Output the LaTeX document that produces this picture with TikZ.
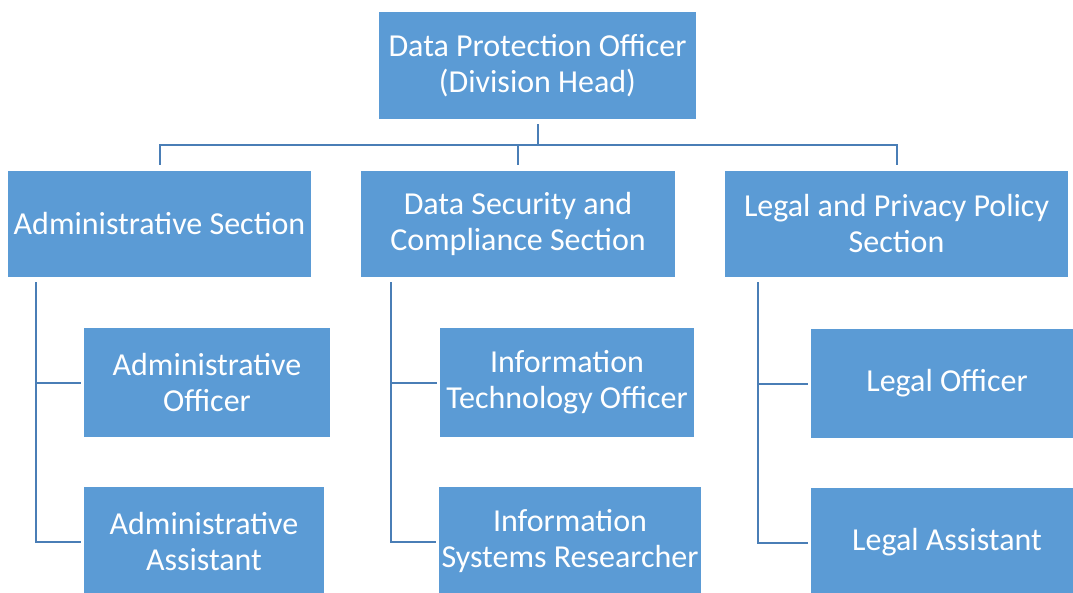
\documentclass[tikz,border=0pt]{standalone}
\usepackage{fontspec}
\setmainfont{Carlito}
\definecolor{boxblue}{RGB}{91,155,213}
\definecolor{lineblue}{RGB}{74,126,182}
\begin{document}
\begin{tikzpicture}[x=1pt,y=-1pt,
  orgbox/.style={rectangle, fill=boxblue, text=white, inner sep=0pt,
    align=center, font=\fontsize{32}{36}\selectfont},
  conn/.style={draw=lineblue, line width=2pt}]
\useasboundingbox (0,0) rectangle (1073,592);
\begin{scope}
\clip (0,0) rectangle (1073,592);
% head of division
\node[orgbox, minimum width=317pt, minimum height=107pt] (top) at (537.5,65.5)
  {Data Protection Officer\\(Division Head)};
% sections
\node[orgbox, minimum width=303pt, minimum height=106pt] (adm) at (159.5,224)
  {Administrative Section};
\node[orgbox, minimum width=314pt, minimum height=106pt] (sec) at (518,224)
  {Data Security and\\Compliance Section};
\node[orgbox, minimum width=343pt, minimum height=106pt] (leg) at (896.5,224)
  {Legal and Privacy Policy\\Section};
% staff
\node[orgbox, minimum width=246pt, minimum height=109pt] (ao) at (207,382.5)
  {Administrative\\Officer};
\node[orgbox, minimum width=240pt, minimum height=109pt] (aa) at (204,541.5)
  {Administrative\\Assistant};
\node[orgbox, minimum width=254pt, minimum height=109pt] (ito) at (567,382.5)
  {Information\\Technology Officer};
\node[orgbox, minimum width=262pt, minimum height=109pt] (isr) at (570,541.5)
  {Information\\Systems Researcher};
\node[orgbox, minimum width=272pt, minimum height=109pt] (lo) at (947,383.5)
  {Legal Officer};
\node[orgbox, minimum width=272pt, minimum height=109pt] (la) at (947,542.5)
  {Legal Assistant};
% connector guides
\coordinate (bus) at (538,145);
\coordinate (aX) at (36,0);
\coordinate (sX) at (391,0);
\coordinate (lX) at (758,0);
% top level
\draw[conn] ([yshift=-5pt]top.south) -- (top.south |- bus);
\draw[conn] ([yshift=6pt]adm.north) |- (bus) -| ([yshift=6pt]leg.north);
\draw[conn] ([yshift=6pt]sec.north) -- (sec.north |- bus);
% section staff
\draw[conn] ([yshift=-5pt]adm.south -| aX) |- ([xshift=-3pt]ao.west);
\draw[conn] ([yshift=-5pt]adm.south -| aX) |- ([xshift=-3pt]aa.west);
\draw[conn] ([yshift=-5pt]sec.south -| sX) |- ([xshift=-3pt]ito.west);
\draw[conn] ([yshift=-5pt]sec.south -| sX) |- ([xshift=-3pt]isr.west);
\draw[conn] ([yshift=-5pt]leg.south -| lX) |- ([xshift=-3pt]lo.west);
\draw[conn] ([yshift=-5pt]leg.south -| lX) |- ([xshift=-3pt]la.west);
\end{scope}
\end{tikzpicture}
\end{document}
